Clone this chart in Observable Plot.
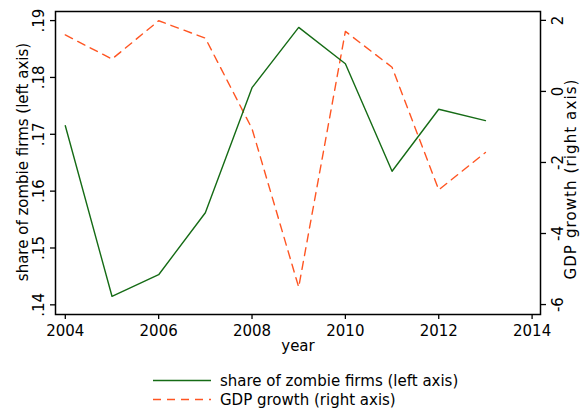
<!DOCTYPE html>
<html>
<head>
<meta charset="utf-8">
<script src="https://cdn.jsdelivr.net/npm/d3@7"></script>
<script src="https://cdn.jsdelivr.net/npm/@observablehq/plot@0.6"></script>
<style>
  body { margin: 0; background: #fff; font-family: "DejaVu Sans", sans-serif; }
  #wrap { width: 581px; }
  #legend { padding-top: 11px; padding-left: 153px; font-size: 15px; color: #000; }
  .row { display: flex; align-items: center; height: 19px; }
  .row svg { margin-right: 9px; }
</style>
</head>
<body>
<div id="wrap">
  <div id="chart"></div>
  <div id="legend"></div>
</div>
<script>
// ---- data ----
const years = [2004, 2005, 2006, 2007, 2008, 2009, 2010, 2011, 2012, 2013];
const zombieShare = [0.1715, 0.1415, 0.1453, 0.1562, 0.1782, 0.1888, 0.1824, 0.1635, 0.1744, 0.1724];
const gdpGrowth = [1.59, 0.91, 1.99, 1.50, -1.05, -5.51, 1.69, 0.68, -2.77, -1.72];
const xTicks = [2004, 2006, 2008, 2010, 2012, 2014];
const leftTicks = [0.14, 0.15, 0.16, 0.17, 0.18, 0.19];
const rightTicks = [-6, -4, -2, 0, 2];
const seriesNames = ["share of zombie firms (left axis)", "GDP growth (right axis)"];
const xTitle = "year";

const greenColor = "#156b15";
const orangeColor = "#ff5522";
const dash = "8,6";

const leftDomain = [0.1383, 0.1916];
const rightDomain = [-6.28, 2.25];
const toLeft = d3.scaleLinear().domain(rightDomain).range(leftDomain);

const zombieData = years.map((y, i) => ({year: y, v: zombieShare[i]}));
const gdpData = years.map((y, i) => ({year: y, v: toLeft(gdpGrowth[i])}));

const chart = Plot.plot({
  width: 581,
  height: 360,
  marginLeft: 55,
  marginRight: 41,
  marginTop: 11,
  marginBottom: 46,
  style: {fontFamily: "DejaVu Sans", fontSize: "15px", background: "#fff", color: "#000"},
  x: {domain: [2003.79, 2014.18]},
  y: {domain: leftDomain},
  marks: [
    Plot.line(gdpData, {x: "year", y: "v", stroke: orangeColor, strokeWidth: 1.4, strokeDasharray: dash}),
    Plot.line(zombieData, {x: "year", y: "v", stroke: greenColor, strokeWidth: 1.4}),
    Plot.axisX({ticks: xTicks, tickSize: 5, tickPadding: 6, tickFormat: d => String(d), label: null, stroke: "#000", strokeWidth: 1.3}),
    Plot.axisY({anchor: "left", ticks: leftTicks, tickSize: 5, tickPadding: 7, tickRotate: -90,
      textAnchor: "middle", lineAnchor: "bottom",
      tickFormat: d => d3.format(".2f")(d).replace(/^0/, ""), label: null, stroke: "#000", strokeWidth: 1.3}),
    Plot.axisY({anchor: "right", ticks: rightTicks.map(t => toLeft(t)), tickSize: 5, tickPadding: 7, tickRotate: -90,
      textAnchor: "middle", lineAnchor: "top",
      tickFormat: d => String(Math.round(toLeft.invert(d))), label: null, stroke: "#000", strokeWidth: 1.3}),
    Plot.text([seriesNames[0]], {frameAnchor: "left", dx: -28, dy: -1, rotate: -90, lineAnchor: "bottom", textAnchor: "middle", text: d => d}),
    Plot.text([seriesNames[1]], {frameAnchor: "right", dx: 25, dy: 16, rotate: -90, lineAnchor: "top", textAnchor: "middle", text: d => d, className: "rtitle"}),
    Plot.text([xTitle], {frameAnchor: "bottom", dy: 36, lineAnchor: "bottom", textAnchor: "middle", text: d => d}),
    Plot.frame({stroke: "#000", strokeWidth: 1.5})
  ]
});
// the right-axis title in the reference is set a little wider
chart.querySelectorAll("text").forEach(t => {
  if (t.textContent === seriesNames[1]) t.setAttribute("letter-spacing", "1.1");
});
document.getElementById("chart").appendChild(chart);

// legend
const legend = document.getElementById("legend");
const styles = [{stroke: greenColor, dash: null}, {stroke: orangeColor, dash: dash}];
seriesNames.forEach((name, i) => {
  const row = document.createElement("div");
  row.className = "row";
  const ns = "http://www.w3.org/2000/svg";
  const s = document.createElementNS(ns, "svg");
  s.setAttribute("width", 58);
  s.setAttribute("height", 19);
  const ln = document.createElementNS(ns, "line");
  ln.setAttribute("x1", 0); ln.setAttribute("x2", 58);
  ln.setAttribute("y1", 9.5); ln.setAttribute("y2", 9.5);
  ln.setAttribute("stroke", styles[i].stroke);
  ln.setAttribute("stroke-width", 1.6);
  if (styles[i].dash) ln.setAttribute("stroke-dasharray", styles[i].dash);
  s.appendChild(ln);
  const t = document.createElement("span");
  t.textContent = name;
  row.appendChild(s);
  row.appendChild(t);
  legend.appendChild(row);
});
</script>
</body>
</html>
